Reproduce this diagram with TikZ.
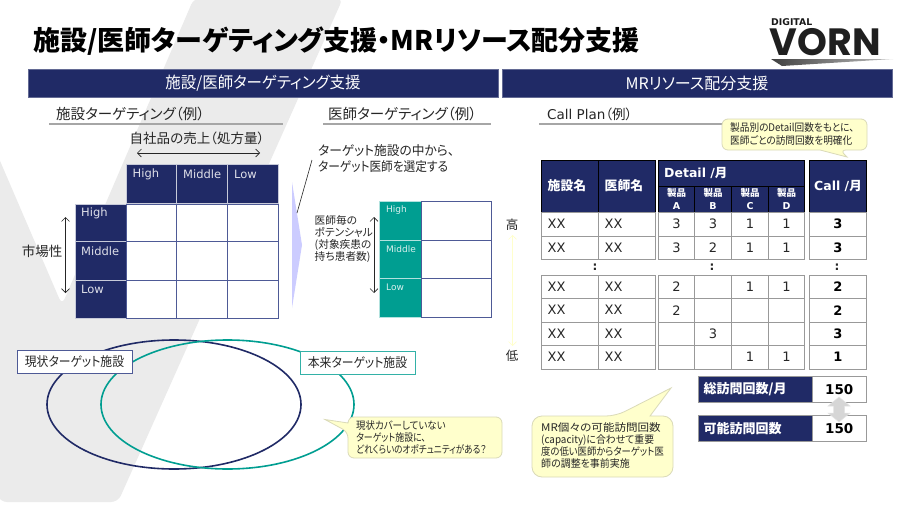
\documentclass[tikz,border=0pt]{standalone}
\usepackage{fontspec}
\setmainfont{DejaVu Sans}
\newfontfamily\jp[RawFeature=+palt]{Noto Sans CJK JP}
\newcommand\J[1]{{\jp #1}}
\newcommand\fs[2]{\fontsize{#1}{#2}\selectfont}
\newcommand\sx[2]{\scalebox{#1}[1]{#2}}
\usetikzlibrary{arrows.meta}
\definecolor{navy}{HTML}{202A66}
\definecolor{teal2}{HTML}{009E91}
\definecolor{gridc}{HTML}{4E5A96}
\definecolor{tline}{HTML}{999999}
\definecolor{bgv}{HTML}{EBEBEB}
\definecolor{ycall}{HTML}{FFFFCC}
\definecolor{ycallb}{HTML}{DADAB8}
\definecolor{ink}{HTML}{262626}
\tikzset{
 txt/.style={inner sep=0pt,text=ink},
 ltxt/.style={txt,anchor=west,align=left},
 wtxt/.style={inner sep=0pt,text=white},
 bar/.style={fill=navy,draw=navy!70!white,line width=.5pt},
 rule/.style={draw=black!35,line width=1.2pt},
 hcell/.style={fill=navy,draw=white!75!navy,line width=.7pt},
 gcell/.style={fill=white,draw=gridc,line width=.7pt},
 tcellst/.style={fill=teal2,draw=white!70!teal2,line width=.6pt},
 thead/.style={fill=navy,draw=black,line width=.8pt},
 tbody/.style={fill=white,draw=tline,line width=.8pt},
 callout/.style={fill=ycall,draw=ycallb,line width=.8pt},
 dbl/.style={{Straight Barb[length=4pt,width=8pt]}-{Straight Barb[length=4pt,width=8pt]},line width=.6pt},
 tag/.style={fill=white,line width=.8pt,inner sep=0pt,minimum height=23pt,minimum width=115pt},
}
\newcommand\vcell[7]{\draw[#5] (#1,#2) rectangle (#3,#4) node[midway,inner sep=0pt,text=#6,align=center] (c-#1-#2) {#7};}
\newcommand\lcell[7]{\draw[#5] (#1,#2) rectangle (#3,#4);
  \node[anchor=west,inner sep=0pt,text=#6] (l-#1-#2) at ({#1+6},{(#2+#4)/2}) {#7};}
\begin{document}
\begin{tikzpicture}[x=1pt,y=-1pt]
\useasboundingbox (0,0) rectangle (900,506);
\fill[white] (0,0) rectangle (900,506);
% background V
\fill[bgv,rounded corners=7pt] (-12,133) -- (62,305) -- (194,-2) -- (343,-2) -- (118,502) -- (0,502) -- (-12,470) -- cycle;
% title
\node[anchor=west,inner sep=0pt,text=black] (title) at (33,41) {\fs{27}{32}\bfseries\J{施設/医師ターゲティング支援・MRリソース配分支援}};
% logo
\node[anchor=west,inner sep=0pt,text=black!90] (logoa) at (771,22.5) {\fs{9.3}{10}\bfseries DIGITAL};
\node[anchor=west,inner sep=0pt,text=black!88] (logob) at (769.5,42.5) {\fontsize{38}{40}\selectfont\fontspec{Poppins}[BoldFont={Poppins Bold}]\bfseries VORN};
\shade[left color=black!75,right color=black!25] (771,59) -- (893,59) -- (782,66) -- cycle;
% header bars
\draw[bar] (28,69.5) rectangle (498,97) node[midway,wtxt] (h1) {\fs{16}{18}\sx{.965}{\J{施設/医師ターゲティング支援}}};
\draw[bar] (502,69.5) rectangle (892,97) node[midway,wtxt] (h2) {\fs{16}{18}\J{MRリソース配分支援}};
% sub-headings
\node[ltxt] (s1) at (56,114) {\fs{14.5}{16}\J{施設ターゲティング（例）}};
\node[ltxt] (s2) at (328,114) {\fs{14.5}{16}\J{医師ターゲティング（例）}};
\node[ltxt] (s3) at (547,114) {\fs{13.5}{16}Call Plan\J{（例）}};
\draw[rule] (49,124) -- (283,124);
\draw[rule] (323,124) -- (491,124);
\draw[rule] (539,124) -- (724,124);
% left matrix
\node[txt] (own) at (197,138) {\fs{13.5}{16}\J{自社品の売上（処方量）}};
\coordinate (oa) at (137,153); \coordinate (ob) at (260,153);
\draw[dbl,draw=ink] (oa) -- (ob);
\foreach \xa/\xb/\lab in {126/176.5/High,176.5/227.5/Middle,227.5/278/Low}{
  \draw[hcell] (\xa,164) rectangle (\xb,203.5);
  \node[anchor=west,inner sep=0pt,text=white!85!navy] (top\lab) at ({\xa+6.5},174.5) {\fs{11.5}{13}\lab};
}
\foreach \ya/\yb/\lab in {204/241.5/High,241.5/280/Middle,280/318.5/Low}{
  \draw[hcell] (75,\ya) rectangle (126,\yb);
  \node[anchor=west,inner sep=0pt,text=white!85!navy] (side\lab) at (81,{\ya+9.5}) {\fs{11.5}{13}\lab};
  \foreach \xa/\xb in {126/176.5,176.5/227.5,227.5/278}{
    \draw[gcell] (\xa,\ya) rectangle (\xb,\yb);
  }
}
\node[txt,anchor=east] (mkt) at (62.5,251) {\fs{13.5}{16}\J{市場性}};
\coordinate (ma) at (65.5,217); \coordinate (mb) at (65.5,293);
\draw[dbl,draw=ink] (ma) -- (mb);
% arrow shape and leader
\fill[blue!20] (292,182) -- (302,245) -- (292,308) -- cycle;
\coordinate (la) at (312,160); \coordinate (lb) at (297,213);
\draw[draw=ink,line width=.6pt] (la) -- (lb);
\node[ltxt,font=\fs{13}{16}] (sel) at (318,159) {\sx{.98}{\J{ターゲット施設の中から、}}\\\sx{.9}{\J{ターゲット医師を選定する}}};
% right matrix
\foreach \ya/\yb/\lab in {201/240/High,240/278.5/Middle,278.5/317/Low}{
  \draw[tcellst] (379.5,\ya) rectangle (421.5,\yb);
  \node[anchor=west,inner sep=0pt,text=white!85!teal2] (t\lab) at (386,{\ya+9}) {\fs{9}{11}\lab};
  \draw[gcell] (421.5,\ya) rectangle (491.5,\yb);
}
\node[ltxt,font=\fs{10.7}{12}] (pot) at (314.5,239) {\J{医師毎の}\\\J{ポテンシャル}\\\J{(対象疾患の}\\\J{持ち患者数)}};
\coordinate (pa) at (374,217); \coordinate (pb) at (374,293);
\draw[dbl,draw=ink] (pa) -- (pb);
% high / low
\node[txt] (hi) at (512,225) {\fs{12.5}{15}\J{高}};
\node[txt] (lo) at (512,356) {\fs{12.5}{15}\J{低}};
\coordinate (ya) at (512.5,235); \coordinate (yb) at (512.5,346);
\draw[dbl,draw=ycall] (ya) -- (yb);
% table header
\lcell{541.5}{160}{598.5}{212}{thead}{white}{\fs{12.8}{15}\bfseries\J{施設名}}
\lcell{598.5}{160}{655.5}{212}{thead}{white}{\fs{12.8}{15}\bfseries\J{医師名}}
\draw[thead] (658.5,160) rectangle (804.5,186);
\node[anchor=west,inner sep=0pt,text=white] (dh) at (664,173.5) {\fs{12.5}{15}\bfseries Detail /\J{月}};
\foreach \xa/\xb/\lab in {658.5/694.5/A,694.5/731.5/B,731.5/768.5/C,768.5/804.5/D}{
  \draw[thead] (\xa,186) rectangle (\xb,212) node[midway,inner sep=0pt,text=white,align=center,font=\fs{9.5}{12.5}\bfseries] (p\lab) {\J{製品}\\\lab};
}
\vcell{809.5}{160}{866.5}{212}{thead}{white}{\fs{12.5}{15}\bfseries Call /\J{月}}
% table body
\foreach \ya/\yb/\a/\b/\c/\d/\t in {212/236/3/3/1/1/3,236/259/3/2/1/1/3,275/298.5/2//1/1/2,298.5/322/2////2,322/345.5//3///3,345.5/369///1/1/1}{
  \lcell{541.5}{\ya}{598.5}{\yb}{tbody}{ink}{\fs{13}{15}XX}
  \lcell{598.5}{\ya}{655.5}{\yb}{tbody}{ink}{\fs{13}{15}XX}
  \vcell{658.5}{\ya}{694.5}{\yb}{tbody}{ink}{\fs{13}{15}\a}
  \vcell{694.5}{\ya}{731.5}{\yb}{tbody}{ink}{\fs{13}{15}\b}
  \vcell{731.5}{\ya}{768.5}{\yb}{tbody}{ink}{\fs{13}{15}\c}
  \vcell{768.5}{\ya}{804.5}{\yb}{tbody}{ink}{\fs{13}{15}\d}
  \vcell{809.5}{\ya}{866.5}{\yb}{tbody}{black}{\fs{13}{15}\bfseries\t}
}
\node[inner sep=0pt,text=ink] (d1) at (595,267.5) {\fs{12}{14}\bfseries :};
\node[inner sep=0pt,text=ink] (d2) at (712,267.5) {\fs{12}{14}\bfseries :};
\node[inner sep=0pt,text=ink] (d3) at (837,267.5) {\fs{12}{14}\bfseries :};
% totals
\draw[tbody] (698,376.5) rectangle (812,402);
\fill[navy] (698.5,377) rectangle (812,401.5);
\node[anchor=west,inner sep=0pt,text=white] (tot1) at (703.5,389.5) {\fs{13}{15}\bfseries\J{総訪問回数/月}};
\vcell{812}{376.5}{866.5}{402.5}{tbody}{black}{\fs{13.5}{15}\bfseries 150}
\draw[tbody] (698,415.5) rectangle (812,441.5);
\fill[navy] (698.5,416) rectangle (812,441);
\node[anchor=west,inner sep=0pt,text=white] (tot2) at (703.5,429) {\fs{13}{15}\bfseries\J{可能訪問回数}};
\vcell{812}{415.5}{866.5}{441.5}{tbody}{black}{\fs{13.5}{15}\bfseries 150}
\draw[fill=black!16,draw=black!10,line width=.5pt] (839,397) -- (850,406) -- (844.5,406) -- (844.5,413) -- (850,413) -- (839,422) -- (828,413) -- (833.5,413) -- (833.5,406) -- (828,406) -- cycle;
% ellipses
\draw[navy,line width=1.6pt] (174,404.5) ellipse [x radius=127,y radius=64.5];
\draw[teal2,line width=1.6pt] (227.5,404.5) ellipse [x radius=126.5,y radius=64.5];
\node[tag,draw=gridc,text=ink] (cur) at (74.5,361.5) {\fs{13}{15}\sx{.91}{\J{現状ターゲット施設}}};
\node[tag,draw=teal2!80!white,text=ink] (ideal) at (357.5,362.5) {\fs{13}{15}\sx{.91}{\J{本来ターゲット施設}}};
% callouts
\draw[callout,rounded corners=6pt] (722,119) -- (867,119) -- (867,150) -- (840,150) [sharp corners] -- (847,157) -- (820,150) [rounded corners=6pt] -- (722,150) -- cycle;
\node[ltxt,font=\fs{10.5}{13}] (co1) at (730,134.5) {\sx{.92}{\J{製品別のDetail回数をもとに、}}\\\sx{.92}{\J{医師ごとの訪問回数を明確化}}};
\draw[callout,rounded corners=6pt] (348,417) -- (502,417) -- (502,458) -- (348,458) -- (348,432) [sharp corners] -- (325,419.5) -- (348,423) [rounded corners=6pt] -- cycle;
\node[ltxt,font=\fs{10.5}{12.3}] (co2) at (356,437.5) {\sx{.9}{\J{現状カバーしていない}}\\\sx{.85}{\J{ターゲット施設に、}}\\\sx{.82}{\J{どれくらいのオポチュニティがある？}}};
\draw[callout,rounded corners=10pt] (532,416) -- (616,416) [sharp corners] -- (671,388) -- (650,416) [rounded corners=10pt] -- (673,416) -- (673,477) -- (532,477) -- cycle;
\node[ltxt,font=\fs{10.5}{12}] (co3) at (541,446) {\sx{1.1}{\J{MR個々の可能訪問回数}}\\\sx{.94}{\J{(capacity)に合わせて重要}}\\\sx{.89}{\J{度の低い医師からターゲット医}}\\\sx{.95}{\J{師の調整を事前実施}}};
\end{tikzpicture}
\end{document}
